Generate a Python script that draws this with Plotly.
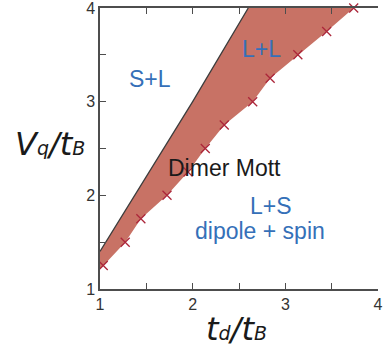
import plotly.graph_objects as go

# Phase boundary of the dimer Mott region (lower edge, computed points)
td_points = [1.035, 1.272, 1.441, 1.723, 1.95, 2.136, 2.341, 2.648, 2.836, 3.135, 3.446, 3.738]
vq_points = [1.25, 1.50, 1.75, 2.00, 2.25, 2.50, 2.75, 3.00, 3.25, 3.50, 3.75, 4.00]

# Lower edge extended to the left axis
lower_td = [1.0] + td_points
lower_vq = [1.21] + vq_points

# Upper boundary (S+L / dimer Mott)
upper_td = [1.0, 1.5, 2.0, 2.6]
upper_vq = [1.40, 2.20, 3.00, 4.00]

major_ticks = [1, 2, 3, 4]
minor_ticks = [1.5, 2.5, 3.5]

FILL = "rgb(200,114,101)"
MARK = "rgb(172,38,58)"
BLUE = "#3570B8"
AX = "#4d4d4d"

fig = go.Figure()

# shaded dimer Mott region
fig.add_trace(go.Scatter(
    x=upper_td + lower_td[::-1],
    y=upper_vq + lower_vq[::-1],
    mode="lines", fill="toself", fillcolor=FILL,
    line=dict(width=0), hoverinfo="skip", showlegend=False,
))

# upper boundary line
fig.add_trace(go.Scatter(
    x=upper_td, y=upper_vq, mode="lines",
    line=dict(color="#3c3c3c", width=1.3), showlegend=False,
))

# computed boundary points
fig.add_trace(go.Scatter(
    x=td_points, y=vq_points, mode="markers",
    marker=dict(symbol="x-thin-open", size=9, color=MARK, line=dict(color=MARK, width=1.3)),
    cliponaxis=False, showlegend=False,
))

tickfont = dict(family="Liberation Sans, Arial, sans-serif", size=16, color="#333333")
minor = dict(tickvals=minor_ticks, ticks="inside", ticklen=6, tickwidth=1.2, tickcolor=AX, showgrid=False)

fig.update_layout(
    width=383, height=349,
    margin=dict(l=100, r=0, t=5.5, b=59.5),
    paper_bgcolor="white", plot_bgcolor="white",
    xaxis=dict(
        range=[1, 4], tickvals=major_ticks, minor=minor,
        ticks="inside", ticklen=6, tickwidth=1.2, tickcolor=AX,
        showline=True, linecolor=AX, linewidth=1.5, mirror="ticks",
        showgrid=False, zeroline=False, tickfont=tickfont,
        ticklabeloverflow="allow",
    ),
    yaxis=dict(
        range=[1, 4], tickvals=major_ticks, minor=minor,
        ticks="inside", ticklen=6, tickwidth=1.2, tickcolor=AX,
        showline=True, linecolor=AX, linewidth=1.5, mirror=False,
        showgrid=False, zeroline=False, tickfont=tickfont,
        ticklabeloverflow="allow",
    ),
    yaxis2=dict(
        range=[1, 4], tickvals=major_ticks, minor=minor,
        overlaying="y", side="right", anchor="x",
        ticks="inside", ticklen=6, tickwidth=1.2, tickcolor=AX,
        showline=False, showgrid=False, zeroline=False, showticklabels=False,
    ),
)

label_font = dict(family="Liberation Sans, Arial, sans-serif", size=23)
fig.add_annotation(x=1.54, y=3.245, text="S+L", showarrow=False, font=dict(label_font, color=BLUE))
fig.add_annotation(x=2.74, y=3.56, text="L+L", showarrow=False, font=dict(label_font, color=BLUE))
fig.add_annotation(x=2.346, y=2.294, text="Dimer Mott", showarrow=False, font=dict(label_font, color="#1a1a1a"))
fig.add_annotation(x=2.85, y=1.89, text="L+S", showarrow=False, font=dict(label_font, color=BLUE))
fig.add_annotation(x=2.728, y=1.618, text="dipole + spin", showarrow=False, font=dict(label_font, color=BLUE))

# axis titles: index letters set smaller on the same baseline
title_font = dict(family="DejaVu Sans, sans-serif", size=32, color="#1a1a1a")
small = '<span style="font-size:19px">{}</span>'
fig.add_annotation(
    xref="paper", yref="paper", x=-0.18, y=0.515, xanchor="center", yanchor="middle",
    text="<i>V" + small.format("q") + "/t" + small.format("B") + "</i>",
    showarrow=False, font=title_font,
)
fig.add_annotation(
    xref="paper", yref="paper", x=0.49, y=-0.142, xanchor="center", yanchor="middle",
    text="<i>t" + small.format("d") + "/t" + small.format("B") + "</i>",
    showarrow=False, font=title_font,
)

fig.write_html("out.html")
